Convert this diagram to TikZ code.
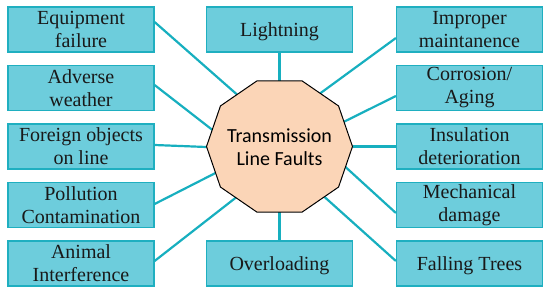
\documentclass[tikz,border=0pt]{standalone}
\usepackage{fontspec}
\setmainfont{Liberation Serif}
\newfontfamily\serifont{Liberation Serif}
\newfontfamily\calfont{Carlito}
\definecolor{boxfill}{HTML}{6DCDDC}
\definecolor{boxedge}{HTML}{1FAFC0}
\definecolor{linkc}{HTML}{17AFBF}
\definecolor{hubfill}{HTML}{FBD5B7}
\tikzset{
  causebox/.style={draw=boxedge, line width=1.2pt, fill=boxfill, minimum width=146pt, minimum height=45pt,
    inner sep=0pt, align=center, font=\serifont\fontsize{20}{23}\selectfont, text=black!90,
    execute at begin node={\rule{0pt}{18pt}}},
  link/.style={draw=linkc, line width=2.2pt},
  hub/.style={draw=black, line width=1pt, fill=hubfill},
}
\begin{document}
\begin{tikzpicture}[x=1pt,y=-1pt]
\useasboundingbox (0,0) rectangle (550,293);
% boxes
\node[causebox] (b1) at (81,29.5) {Equipment\\failure};
\node[causebox] (b2) at (81,88) {Adverse\\weather};
\node[causebox] (b3) at (81,146.5) {Foreign objects\\on line};
\node[causebox] (b4) at (81,205) {Pollution\\Contamination};
\node[causebox] (b5) at (81,263.5) {Animal\\Interference};
\node[causebox] (t1) at (279.5,29.5) {Lightning};
\node[causebox] (t2) at (279.5,263.5) {Overloading};
\node[causebox] (r1) at (469.5,29.5) {Improper\\maintanence};
\node[causebox] (r2) at (469.5,88) {Corrosion/\\Aging};
\node[causebox] (r3) at (469.5,146.5) {Insulation\\deterioration};
\node[causebox] (r4) at (469.5,205) {Mechanical\\damage};
\node[causebox] (r5) at (469.5,263.5) {Falling Trees};
% contact points on the decagon
\coordinate (e1) at (237,94.5);
\coordinate (e2) at (212.5,130);
\coordinate (e3) at (206.5,147);
\coordinate (e4) at (215.5,173);
\coordinate (e5) at (236,197.5);
\coordinate (e6) at (279.5,81);
\coordinate (e7) at (279.5,212);
\coordinate (e8) at (320,93.5);
\coordinate (e9) at (343.5,122);
\coordinate (e10) at (352.5,146.5);
\coordinate (e11) at (345.5,167);
\coordinate (e12) at (324,196.5);
% connectors
\draw[link] ([yshift=7.5pt]b1.east) -- (e1);
\draw[link] ([yshift=3pt]b2.east) -- (e2);
\draw[link] ([yshift=1.5pt]b3.east) -- (e3);
\draw[link] ([yshift=1pt]b4.east) -- (e4);
\draw[link] ([yshift=2.5pt]b5.east) -- (e5);
\draw[link] (t1.south) -- (e6);
\draw[link] (t2.north) -- (e7);
\draw[link] ([yshift=-8.5pt]r1.west) -- (e8);
\draw[link] ([yshift=-8pt]r2.west) -- (e9);
\draw[link] (r3.west) -- (e10);
\draw[link] ([yshift=-8pt]r4.west) -- (e11);
\draw[link] ([yshift=2.5pt]r5.west) -- (e12);
% hub decagon
\draw[hub] (279.5,146.5) +(0:73 and 69) -- +(36:73 and 69) -- +(72:73 and 69) -- +(108:73 and 69)
  -- +(144:73 and 69) -- +(180:73 and 69) -- +(216:73 and 69) -- +(252:73 and 69)
  -- +(288:73 and 69) -- +(324:73 and 69) -- cycle;
\node[align=center, font=\calfont\fontsize{20}{23.5}\selectfont, inner sep=0pt] (hub) at (279.5,147) {Transmission\\Line Faults};
\end{tikzpicture}
\end{document}
